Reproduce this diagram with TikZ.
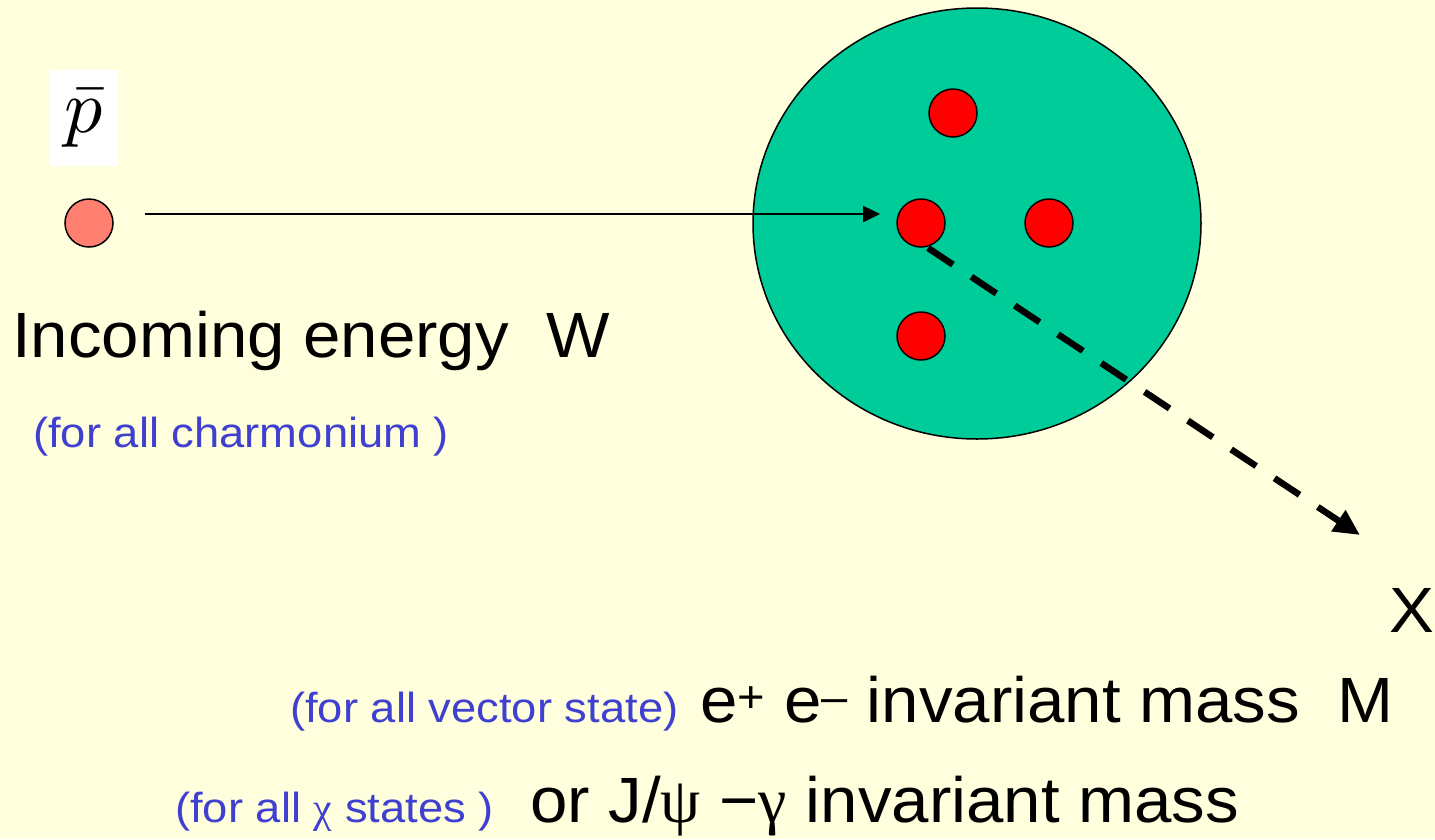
\documentclass[tikz,border=0pt]{standalone}
\usepackage{fontspec}
\usetikzlibrary{arrows.meta,shapes.geometric}
\newfontfamily\sansf{Liberation Sans}[FakeStretch=1.05]
\newfontfamily\notef{Liberation Sans}[FakeStretch=1.08]
\newfontfamily\greekf{Liberation Serif}
\definecolor{bgyellow}{HTML}{FFFFDD}
\definecolor{tealc}{HTML}{00CC99}
\definecolor{salmonc}{HTML}{FF8070}
\definecolor{labelblue}{RGB}{64,64,208}
\tikzset{
  dot/.style={circle, draw=black, line width=1.5pt, fill=red, minimum size=48pt, inner sep=0pt},
  txt/.style={inner sep=0pt, anchor=base west, font=\sansf\fontsize{64}{70}\selectfont},
  note/.style={inner sep=0pt, anchor=base west, text=labelblue, font=\notef\fontsize{42}{48}\selectfont},
}
\begin{document}
\begin{tikzpicture}[x=1pt,y=-1pt]
\fill[bgyellow] (0,0) rectangle (1435,839);
\useasboundingbox (0,0) rectangle (1435,839);
% p-bar label
\node[fill=white, minimum width=68pt, minimum height=96pt, inner sep=0pt] (pbar) at (84,118) {\raisebox{-5pt}{\scalebox{7.6}{$\bar{p}$}}};
% incoming antiproton
\node[circle, draw=black, line width=1.5pt, fill=salmonc, minimum size=48pt, inner sep=0pt] (pin) at (89,223) {};
% target
\node[ellipse, draw=black, line width=1.5pt, fill=tealc, minimum width=448pt, minimum height=431pt, inner sep=0pt] (target) at (977,223.5) {};
\node[dot] (d1) at (953,113) {};
\node[dot] (d2) at (921,223) {};
\node[dot] (d3) at (1049,223) {};
\node[dot] (d4) at (921,336) {};
% arrows
\coordinate (astart) at (145,214);
\coordinate (aend) at (880,214);
\draw[line width=2.5pt, -{Triangle[length=17pt,width=16pt]}] (astart) -- (aend);
\coordinate (dstart) at (928,248);
\coordinate (dend) at (1360,535);
\draw[line width=6.5pt, dash pattern=on 30pt off 22pt, -{Triangle[length=26pt,width=24pt]}] (dstart) -- (dend);
% texts
\node[txt] (inc) at (12,357) {Incoming energy\ \ W};
\node[note] (charm) at (33,447) {(for all charmonium )};
\node[txt, anchor=base east] (X) at (1435,632) {X};
\node[note] (vec) at (290,722) {(for all vector state)};
\node[txt] (ee) at (700,722) {e\textsuperscript{+} e\textsuperscript{–} invariant mass\ \ M};
\node[note] (chi) at (175,822) {(for all {\greekf χ} states )};
\node[txt] (jpsi) at (530,822) {or J/{\greekf ψ} −{\greekf γ} invariant mass};
\end{tikzpicture}
\end{document}
